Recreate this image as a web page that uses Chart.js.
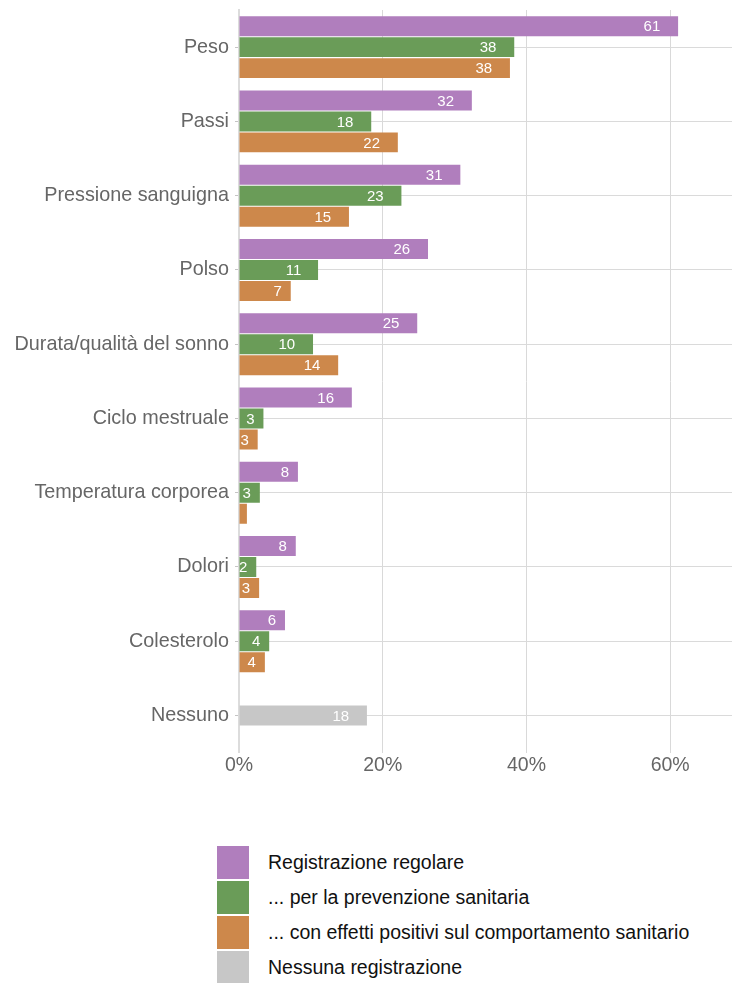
<!DOCTYPE html>
<html lang="it">
<head>
  <meta charset="utf-8">
  <meta name="viewport" content="width=device-width, initial-scale=1">
  <title>Registrazione dei dati sanitari</title>
  <script src="https://cdn.jsdelivr.net/npm/chart.js@4.4.1/dist/chart.umd.min.js"></script>
  <style>
    html, body { margin: 0; padding: 0; background: #fff; }
    body { width: 732px; height: 983px; overflow: hidden; font-family: "Liberation Sans", Arial, Helvetica, sans-serif; }
    .wrapper { position: relative; width: 732px; height: 790px; }
    #legend { list-style: none; margin: 56px 0 0 217px; padding: 0; }
    #legend li { display: flex; align-items: center; height: 33px; margin-bottom: 2px; font-size: 19.5px; color: #111; }
    #legend .box { width: 32px; height: 33px; margin-right: 19px; flex: none; }
  </style>
</head>
<body>
  <div class="wrapper">
    <canvas id="chart-0"></canvas>
  </div>
  <ul id="legend"></ul>

  <script>
    const categories = [
      'Peso', 'Passi', 'Pressione sanguigna', 'Polso', 'Durata/qualità del sonno',
      'Ciclo mestruale', 'Temperatura corporea', 'Dolori', 'Colesterolo', 'Nessuno'
    ];
    const seriesNames = [
      'Registrazione regolare',
      '... per la prevenzione sanitaria',
      '... con effetti positivi sul comportamento sanitario',
      'Nessuna registrazione'
    ];
    // percentuali
    const regolare      = [61.1, 32.4, 30.8, 26.3, 24.8, 15.7, 8.2, 7.9, 6.4, null];
    const prevenzione   = [38.3, 18.4, 22.6, 11.0, 10.3, 3.4, 2.9, 2.4, 4.2, null];
    const comportamento = [37.7, 22.1, 15.3, 7.2, 13.8, 2.6, 1.1, 2.8, 3.6, null];
    const nessuna       = [null, null, null, null, null, null, null, null, null, 17.8];
    const xTicks = [0, 20, 40, 60];

    const colors = ['#b07ebd', '#6a9c58', '#cd884b', '#c7c7c7'];
    const fontFamily = '"Liberation Sans", Arial, Helvetica, sans-serif';

    // white value labels inside the bar ends
    const barValues = {
      id: 'barValues',
      afterDatasetsDraw(chart) {
        const ctx = chart.ctx;
        ctx.save();
        ctx.font = '15px ' + fontFamily;
        ctx.fillStyle = '#fff';
        ctx.textAlign = 'center';
        ctx.textBaseline = 'middle';
        chart.data.datasets.forEach(function(ds, i) {
          const meta = chart.getDatasetMeta(i);
          meta.data.forEach(function(bar, j) {
            const v = ds.data[j];
            if (v == null) return;
            const txt = String(Math.round(v));
            const w = ctx.measureText(txt).width;
            if (bar.x - bar.base < w * 1.6) return;
            ctx.fillText(txt, bar.x - w * 1.57, bar.y + 1);
          });
        });
        ctx.restore();
      }
    };

    let chart = new Chart('chart-0', {
      type: 'bar',
      data: {
        labels: categories,
        datasets: [
          { label: seriesNames[0], data: regolare, backgroundColor: colors[0], stack: 'a' },
          { label: seriesNames[1], data: prevenzione, backgroundColor: colors[1], stack: 'b' },
          { label: seriesNames[2], data: comportamento, backgroundColor: colors[2], stack: 'c' },
          { label: seriesNames[3], data: nessuna, backgroundColor: colors[3], stack: 'b' }
        ]
      },
      options: {
        indexAxis: 'y',
        responsive: true,
        maintainAspectRatio: false,
        animation: false,
        categoryPercentage: 0.848,
        barPercentage: 0.952,
        layout: { padding: { top: 10, right: 0, bottom: 12, left: 0 } },
        plugins: {
          legend: { display: false },
          tooltip: { enabled: false }
        },
        scales: {
          x: {
            min: 0,
            max: 68.6,
            afterBuildTicks(scale) {
              scale.ticks = xTicks.map(v => ({ value: v }));
            },
            grid: { color: '#d9d9d9', drawTicks: false },
            border: { display: false },
            ticks: {
              color: '#666',
              padding: 1,
              font: { size: 19.5, family: fontFamily },
              callback: v => v + '%'
            }
          },
          y: {
            offset: true,
            grid: { offset: false, color: '#dadada', tickColor: '#c4c4c4', tickLength: 4 },
            border: { color: '#dcdcdc', width: 2 },
            ticks: { color: '#666', padding: 6, font: { size: 19.8, family: fontFamily } },
            afterFit(scale) {
              scale.width = 239;
              scale.paddingTop = 0;
              scale.paddingBottom = 0;
            }
          }
        }
      },
      plugins: [barValues]
    });

    // legend list, one row per dataset
    let legend = document.getElementById('legend');
    chart.data.datasets.forEach(function(ds) {
      let li = document.createElement('li');
      let box = document.createElement('span');
      box.className = 'box';
      box.style.background = ds.backgroundColor;
      li.appendChild(box);
      li.appendChild(document.createTextNode(ds.label));
      legend.appendChild(li);
    });
  </script>
</body>
</html>
